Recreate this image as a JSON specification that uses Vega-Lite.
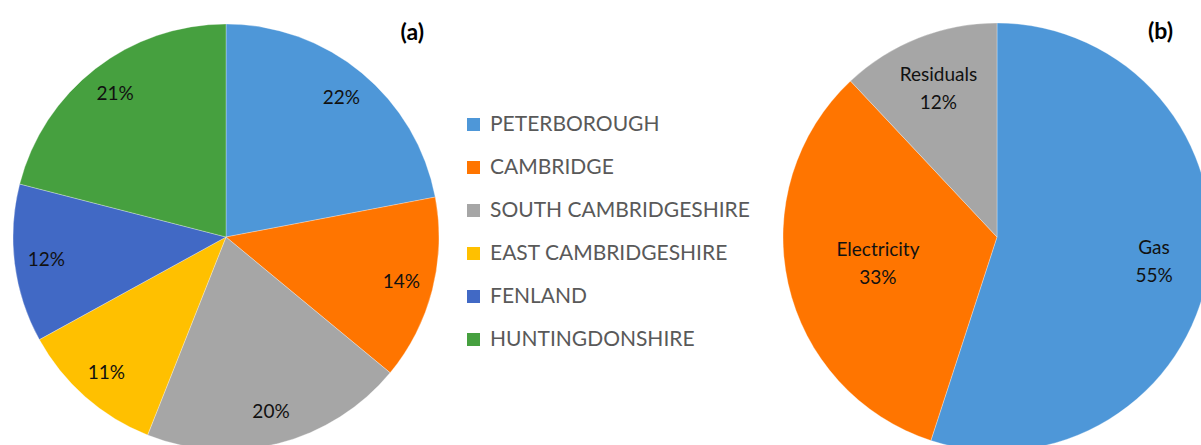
{
  "$schema": "https://vega.github.io/schema/vega-lite/v6.json",
  "background": "white",
  "padding": {"left": 12, "top": 21, "right": 0, "bottom": 0},
  "bounds": "flush",
  "spacing": 345,
  "config": {"view": {"stroke": null}, "font": "Lato"},
  "resolve": {"scale": {"color": "independent", "theta": "independent"}},
  "hconcat": [
    {
      "width": 426,
      "height": 426,
      "title": {"text": "(a)", "anchor": "end", "frame": "group", "orient": "top", "offset": -22, "dx": -15, "fontSize": 23, "fontWeight": "bold", "font": "Lato", "color": "#000000"},
      "data": {"values": [
        {"district": "PETERBOROUGH", "share": 0.22, "rank": 1},
        {"district": "CAMBRIDGE", "share": 0.14, "rank": 2},
        {"district": "SOUTH CAMBRIDGESHIRE", "share": 0.20, "rank": 3},
        {"district": "EAST CAMBRIDGESHIRE", "share": 0.11, "rank": 4},
        {"district": "FENLAND", "share": 0.12, "rank": 5},
        {"district": "HUNTINGDONSHIRE", "share": 0.21, "rank": 6}
      ]},
      "encoding": {
        "theta": {"field": "share", "type": "quantitative", "stack": true},
        "order": {"field": "rank", "type": "quantitative"}
      },
      "layer": [
        {
          "mark": {"type": "arc", "outerRadius": 213, "stroke": "#ffffff", "strokeWidth": 0.3},
          "encoding": {
            "color": {
              "field": "district", "type": "nominal",
              "scale": {
                "domain": ["PETERBOROUGH", "CAMBRIDGE", "SOUTH CAMBRIDGESHIRE", "EAST CAMBRIDGESHIRE", "FENLAND", "HUNTINGDONSHIRE"],
                "range": ["#4E97D8", "#FF7500", "#A6A6A6", "#FFC000", "#4169C5", "#46A03F"]
              },
              "legend": {
                "orient": "none", "legendX": 450, "legendY": 90, "title": null,
                "symbolType": "square", "symbolSize": 169, "symbolStrokeWidth": 0,
                "labelFontSize": 21, "labelFont": "Lato", "labelColor": "#595959",
                "rowPadding": 21, "labelOffset": 6, "labelLimit": 400
              }
            }
          }
        },
        {
          "mark": {"type": "text", "radius": 181, "fontSize": 19, "font": "Lato", "color": "#111111"},
          "encoding": {"text": {"field": "share", "type": "quantitative", "format": ".0%"}}
        }
      ]
    },
    {
      "width": 426,
      "height": 426,
      "title": {"text": "(b)", "anchor": "end", "frame": "group", "orient": "top", "offset": -22, "dx": -37, "fontSize": 23, "fontWeight": "bold", "font": "Lato", "color": "#000000"},
      "data": {"values": [
        {"use": "Gas", "share": 0.55, "rank": 1},
        {"use": "Electricity", "share": 0.33, "rank": 2},
        {"use": "Residuals", "share": 0.12, "rank": 3}
      ]},
      "encoding": {
        "theta": {"field": "share", "type": "quantitative", "stack": true},
        "order": {"field": "rank", "type": "quantitative"}
      },
      "layer": [
        {
          "mark": {"type": "arc", "outerRadius": 214, "stroke": "#ffffff", "strokeWidth": 0.3},
          "encoding": {
            "color": {
              "field": "use", "type": "nominal",
              "scale": {"domain": ["Gas", "Electricity", "Residuals"], "range": ["#4E97D8", "#FF7500", "#A6A6A6"]},
              "legend": null
            }
          }
        },
        {
          "mark": {"type": "text", "radius": {"expr": "datum.use == 'Electricity' ? 122 : 159"}, "dy": -14, "fontSize": 19, "font": "Lato", "color": "#111111"},
          "encoding": {"text": {"field": "use", "type": "nominal"}}
        },
        {
          "mark": {"type": "text", "radius": {"expr": "datum.use == 'Electricity' ? 122 : 159"}, "dy": 14, "fontSize": 19, "font": "Lato", "color": "#111111"},
          "encoding": {"text": {"field": "share", "type": "quantitative", "format": ".0%"}}
        }
      ]
    }
  ]
}
